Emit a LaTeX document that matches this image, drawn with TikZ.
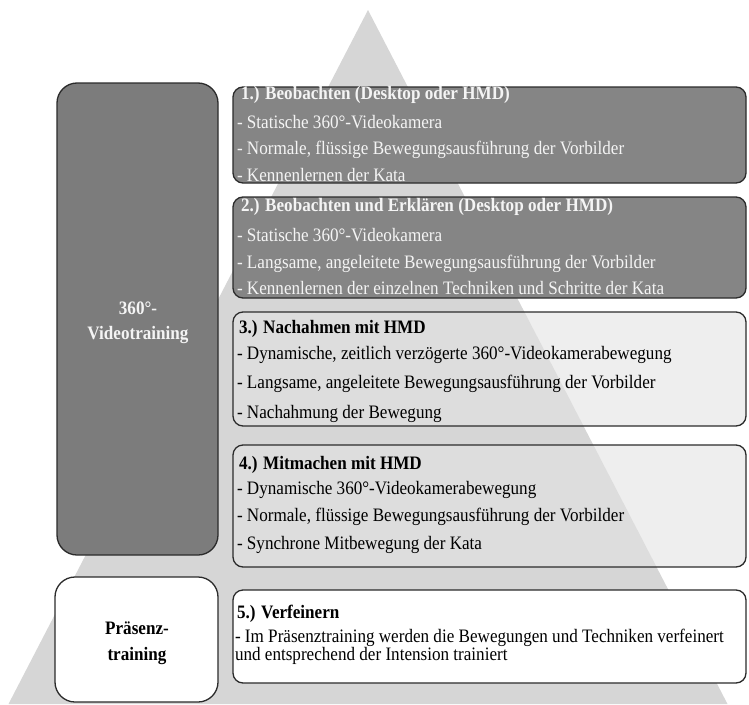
\documentclass[tikz,border=0pt]{standalone}
\usepackage{fontspec}
\setmainfont{Liberation Serif}[FakeStretch=0.9]
\definecolor{tri}{HTML}{D6D6D6}
\definecolor{darkfill}{HTML}{858585}
\definecolor{darkleft}{HTML}{7C7C7C}
\definecolor{lightfill}{HTML}{E2E2E2}
\definecolor{edgecol}{HTML}{2B2B2B}
\definecolor{wtext}{HTML}{F4F4F4}
\begin{document}
\begin{tikzpicture}[x=1pt,y=-1pt,
  every node/.style={inner sep=0pt,outer sep=0pt},
  boxbase/.style={draw=edgecol,line width=1.3pt,rectangle,anchor=north west,minimum width=513pt},
  darkbox/.style={boxbase,fill=darkfill,rounded corners=10pt},
  lightbox/.style={boxbase,fill=lightfill,fill opacity=0.6,rounded corners=10pt},
  whitebox/.style={boxbase,fill=white,rounded corners=10pt},
  sidebox/.style={draw=edgecol,line width=1.3pt,rectangle,anchor=north west,rounded corners=20pt},
  txt/.style={anchor=base west,font=\fontsize{19}{23}\selectfont},
  ttl/.style={txt,font=\fontsize{19}{23}\selectfont\bfseries},
  wtxt/.style={txt,text=wtext},
  wttl/.style={ttl,text=wtext},
  side/.style={anchor=base,font=\fontsize{19}{23}\selectfont\bfseries}
]
\useasboundingbox (0,0) rectangle (749,704);
% background pyramid
\fill[tri] (368,10) -- (727.5,704) -- (8.5,704) -- cycle;

% left boxes
\node[sidebox,fill=darkleft,minimum width=161pt,minimum height=472pt] (lv) at (57,83) {};
\node[sidebox,fill=white,minimum width=163pt,minimum height=125pt] (lp) at (55,577) {};
\node[side,text=wtext] (lv1) at (138,314) {360°-};
\node[side,text=wtext] (lv2) at (138,339) {Videotraining};
\node[side] (lp1) at (137,634) {Präsenz-};
\node[side] (lp2) at (137,660) {training};

% right boxes
\node[darkbox,minimum height=96pt] (b1) at (233,87) {};
\node[darkbox,minimum height=101pt] (b2) at (233,197) {};
\node[lightbox,minimum height=114pt] (b3) at (233,312) {};
\node[lightbox,minimum height=122pt] (b4) at (233,445) {};
\node[whitebox,minimum height=93pt] (b5) at (233,590) {};

% box 1
\node[wttl] (t1) at (241,99) {1.) Beobachten (Desktop oder HMD)};
\node[wtxt] (t1a) at (237,128) {- Statische 360°-Videokamera};
\node[wtxt] (t1b) at (237,154) {- Normale, flüssige Bewegungsausführung der Vorbilder};
\node[wtxt] (t1c) at (237,181) {- Kennenlernen der Kata};
% box 2
\node[wttl] (t2) at (241,211) {2.) Beobachten und Erklären (Desktop oder HMD)};
\node[wtxt] (t2a) at (237,241) {- Statische 360°-Videokamera};
\node[wtxt] (t2b) at (237,268) {- Langsame, angeleitete Bewegungsausführung der Vorbilder};
\node[wtxt] (t2c) at (237,294) {- Kennenlernen der einzelnen Techniken und Schritte der Kata};
% box 3
\node[ttl] (t3) at (239,333) {3.) Nachahmen mit HMD};
\node[txt] (t3a) at (237,359) {- Dynamische, zeitlich verzögerte 360°-Videokamerabewegung};
\node[txt] (t3b) at (237,388) {- Langsame, angeleitete Bewegungsausführung der Vorbilder};
\node[txt] (t3c) at (237,418) {- Nachahmung der Bewegung};
% box 4
\node[ttl] (t4) at (239,469) {4.) Mitmachen mit HMD};
\node[txt] (t4a) at (237,494) {- Dynamische 360°-Videokamerabewegung};
\node[txt] (t4b) at (237,521) {- Normale, flüssige Bewegungsausführung der Vorbilder};
\node[txt] (t4c) at (237,549) {- Synchrone Mitbewegung der Kata};
% box 5
\node[ttl] (t5) at (237,618) {5.) Verfeinern};
\node[txt] (t5a) at (235,642) {- Im Präsenztraining werden die Bewegungen und Techniken verfeinert};
\node[txt] (t5b) at (235,660) {und entsprechend der Intension trainiert};
\end{tikzpicture}
\end{document}
